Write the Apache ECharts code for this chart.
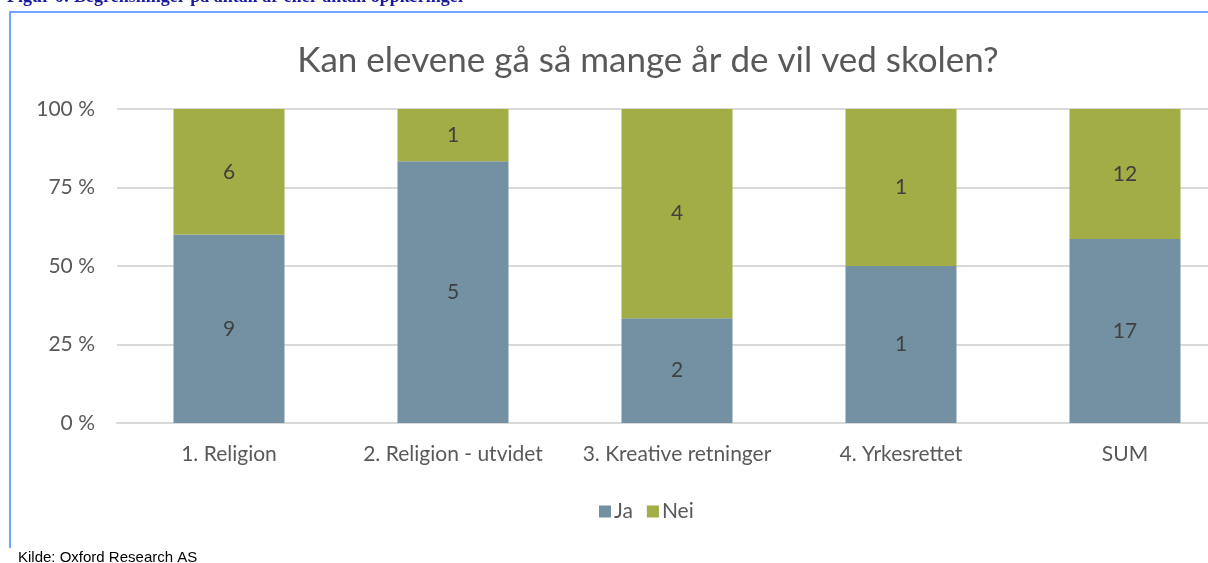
<!DOCTYPE html>
<html>
<head>
<meta charset="utf-8">
<script src="https://cdn.jsdelivr.net/npm/echarts@6/dist/echarts.min.js"></script>
<style>
  html, body { margin: 0; padding: 0; background: #fff; overflow: hidden; }
  #chart { width: 1240px; height: 563px; }
</style>
</head>
<body>
<div id="chart"></div>
<script>
// kategorier og antall svar
var categories = ['1. Religion', '2. Religion - utvidet', '3. Kreative retninger', '4. Yrkesrettet', 'SUM'];
var jaCounts = [9, 5, 2, 1, 17];
var neiCounts = [6, 1, 4, 1, 12];
var yTicks = [0, 25, 50, 75, 100];

// andel i prosent av totalen per kategori
var jaPct = jaCounts.map(function (v, i) { return v / (v + neiCounts[i]) * 100; });
var neiPct = neiCounts.map(function (v, i) { return v / (v + jaCounts[i]) * 100; });

var font = 'Lato';
var chart = echarts.init(document.getElementById('chart'));

chart.setOption({
  animation: false,
  title: {
    text: 'Kan elevene gå så mange år de vil ved skolen?',
    left: 643,
    textAlign: 'center',
    top: 38,
    textStyle: { fontFamily: font, fontSize: 35, fontWeight: 'normal', color: '#595959' }
  },
  legend: {
    data: ['Ja', 'Nei'],
    left: 594,
    top: 496,
    itemWidth: 12,
    itemHeight: 12,
    itemGap: 14,
    icon: 'rect',
    textStyle: { fontFamily: font, fontSize: 21, color: '#595959', padding: [0, 0, 0, -2] }
  },
  grid: { left: 117, top: 109, width: 1120, height: 314 },
  xAxis: {
    type: 'category',
    data: categories,
    axisLine: { lineStyle: { color: '#d9d9d9', width: 2 } },
    axisTick: { show: false },
    axisLabel: { interval: 0, fontFamily: font, fontSize: 21, color: '#595959', margin: 21 }
  },
  yAxis: {
    type: 'value',
    min: yTicks[0],
    max: yTicks[yTicks.length - 1],
    interval: 25,
    axisLine: { show: false },
    axisTick: { show: false },
    splitLine: { lineStyle: { color: '#d9d9d9', width: 2 } },
    axisLabel: {
      fontFamily: font, fontSize: 21, color: '#595959', margin: 22,
      formatter: '{value} %'
    }
  },
  series: [
    {
      name: 'Ja',
      type: 'bar',
      stack: 'total',
      barWidth: 111,
      data: jaPct,
      itemStyle: { color: '#7491a4' },
      label: {
        show: true, position: 'inside',
        fontFamily: font, fontSize: 21, color: '#404040',
        formatter: function (p) { return jaCounts[p.dataIndex]; }
      }
    },
    {
      name: 'Nei',
      type: 'bar',
      stack: 'total',
      barWidth: 111,
      data: neiPct,
      itemStyle: { color: '#a2ad45' },
      label: {
        show: true, position: 'inside',
        fontFamily: font, fontSize: 21, color: '#404040',
        formatter: function (p) { return neiCounts[p.dataIndex]; }
      }
    }
  ],
  graphic: [
    {
      type: 'text', left: 7, top: -12, silent: true,
      style: {
        text: 'Figur 6: Begrensninger på antall år eller antall opplæringer',
        font: 'bold 18px "Liberation Serif", serif', fill: '#1a1a9a'
      }
    },
    { type: 'rect', shape: { x: 9, y: 11, width: 1231, height: 2 }, style: { fill: '#6ea6ff' }, silent: true },
    { type: 'rect', shape: { x: 9, y: 11, width: 2, height: 537 }, style: { fill: '#6ea6ff' }, silent: true },
    {
      type: 'text', left: 18, top: 550, silent: true,
      style: { text: 'Kilde: Oxford Research AS', font: '15px "Liberation Sans", sans-serif', fill: '#000' }
    }
  ]
});
</script>
</body>
</html>
